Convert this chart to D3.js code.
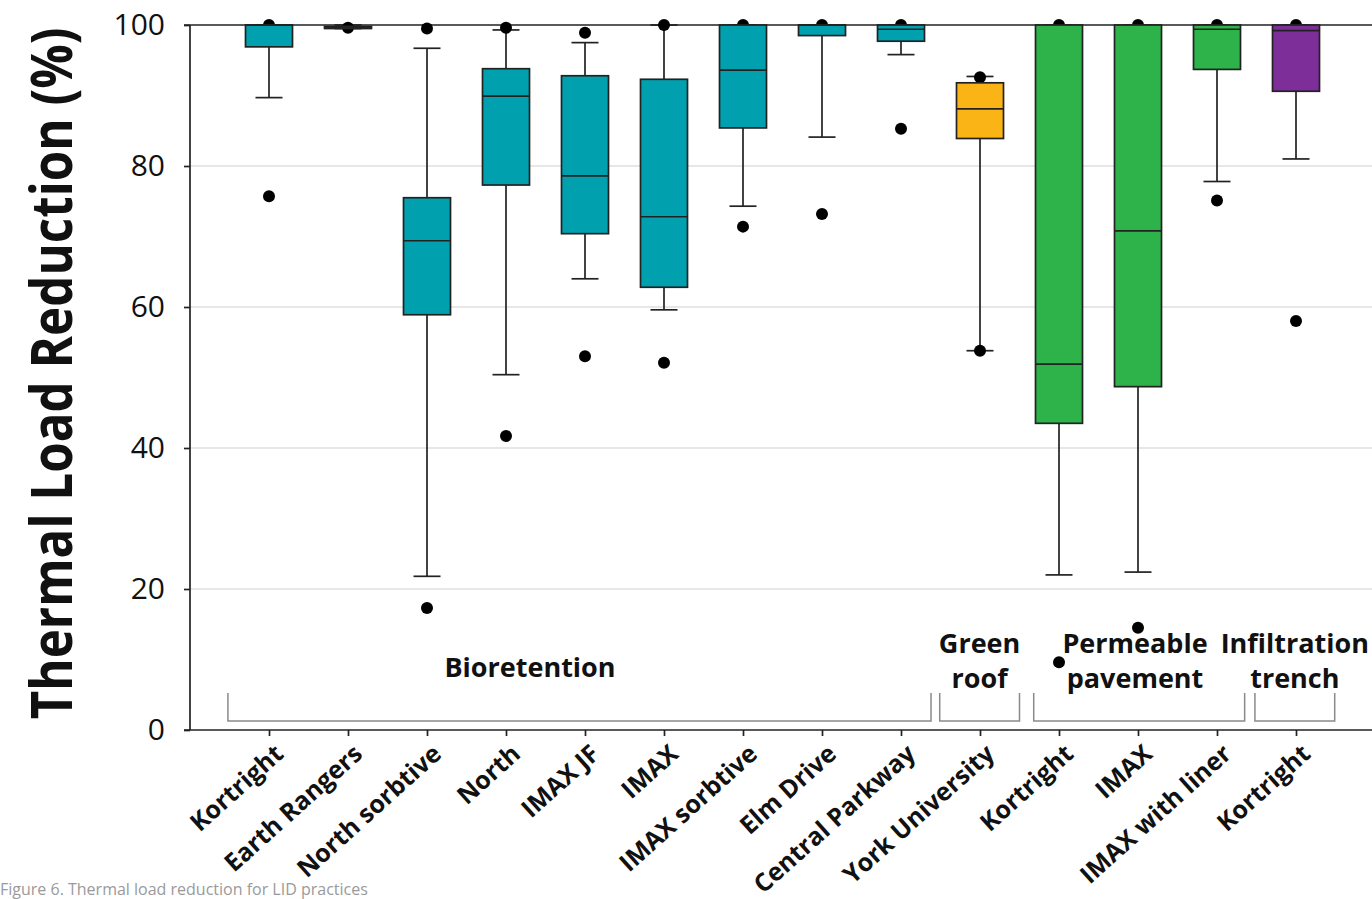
<!DOCTYPE html>
<html>
<head>
<meta charset="utf-8">
<script src="https://cdn.jsdelivr.net/npm/d3@7"></script>
<style>
  html, body { margin: 0; padding: 0; background: #fff; }
  svg { display: block; }
</style>
</head>
<body>
<svg id="chart" width="1372" height="899"></svg>
<script>
// ---------- data ----------
const categories = ["Kortright", "Earth Rangers", "North sorbtive", "North", "IMAX JF", "IMAX",
  "IMAX sorbtive", "Elm Drive", "Central Parkway", "York University", "Kortright", "IMAX",
  "IMAX with liner", "Kortright"];
const practice = ["Bioretention", "Bioretention", "Bioretention", "Bioretention", "Bioretention",
  "Bioretention", "Bioretention", "Bioretention", "Bioretention", "Green roof",
  "Permeable pavement", "Permeable pavement", "Permeable pavement", "Infiltration trench"];
const q1 = [96.9, 99.5, 58.9, 77.3, 70.4, 62.8, 85.4, 98.5, 97.7, 83.9, 43.5, 48.7, 93.7, 90.6];
const median = [100, 99.7, 69.4, 89.9, 78.6, 72.8, 93.6, 100, 99.4, 88.1, 51.9, 70.8, 99.4, 99.2];
const q3 = [100, 99.8, 75.5, 93.8, 92.8, 92.3, 100, 100, 100, 91.8, 100, 100, 100, 100];
const whiskerLow = [89.7, 99.5, 21.8, 50.4, 64.0, 59.6, 74.3, 84.1, 95.8, 53.8, 22.0, 22.4, 77.8, 81.0];
const whiskerHigh = [100, 100, 96.7, 99.3, 97.5, 100, 100, 100, 100, 92.7, 100, 100, 100, 100];
const outliers = [[100, 75.7], [99.6], [99.5, 17.3], [99.6, 41.7], [98.9, 53.0], [100, 52.1],
  [100, 71.4], [100, 73.2], [100, 85.3], [92.6, 53.8], [100, 9.6], [100, 14.5], [100, 75.1], [100, 58.0]];
const yTicks = [0, 20, 40, 60, 80, 100];
const groupNames = ["Bioretention", "Green roof", "Permeable pavement", "Infiltration trench"];
const groupLabelLines = [["Bioretention"], ["Green", "roof"], ["Permeable", "pavement"], ["Infiltration", "trench"]];
const yTitle = "Thermal Load Reduction (%)";
const caption = "Figure 6. Thermal load reduction for LID practices";

// ---------- styling / layout ----------
const practiceColor = {
  "Bioretention": "#00a0af",
  "Green roof": "#fbb416",
  "Permeable pavement": "#2db34a",
  "Infiltration trench": "#7d2e98"
};
// bracket extents in category-position units (layout)
const bracketSpan = [[0.48, 9.38], [9.49, 10.5], [10.68, 13.35], [13.48, 14.49]];
const FONT = "'Open Sans', 'DejaVu Sans', sans-serif";

const svg = d3.select("#chart");
const x = d3.scaleLinear().domain([0, 15]).range([190, 1375]);
const y = d3.scaleLinear().domain([0, 100]).range([730, 25]);
const boxW = 47, capW = 27;
const SW = 1.7;

// gridlines
svg.append("g").selectAll("line").data(yTicks.filter(t => t > 0 && t < 100)).join("line")
  .attr("x1", 190).attr("x2", 1372)
  .attr("y1", d => y(d)).attr("y2", d => y(d))
  .attr("stroke", "#cfcfcf").attr("stroke-width", 1);

// y axis
const yAxis = d3.axisLeft(y).tickValues(yTicks).tickSize(6).tickPadding(19).tickFormat(d3.format("d"));
const gy = svg.append("g").attr("transform", "translate(190,0)").call(yAxis);
gy.select(".domain").attr("stroke", "#222").attr("stroke-width", SW).attr("d", "M0,25V730");
gy.selectAll(".tick line").attr("stroke", "#222").attr("stroke-width", SW);
gy.selectAll(".tick text").attr("font-family", FONT).attr("font-size", 30).attr("fill", "#111");

// top line
svg.append("line").attr("x1", 184).attr("x2", 1372).attr("y1", y(100)).attr("y2", y(100))
  .attr("stroke", "#222").attr("stroke-width", SW);

// x axis
const idx = d3.range(categories.length);
const xAxis = d3.axisBottom(x).tickValues(idx.map(i => i + 1)).tickSize(6).tickFormat("");
const gx = svg.append("g").attr("transform", `translate(0,${y(0)})`).call(xAxis);
gx.select(".domain").attr("stroke", "#222").attr("stroke-width", SW).attr("d", "M184,0H1372");
gx.selectAll(".tick line").attr("stroke", "#222").attr("stroke-width", SW);

// x tick labels
svg.append("g").selectAll("text").data(idx).join("text")
  .attr("transform", i => `translate(${x(i + 1) + 16},${y(0) + 26}) rotate(-42)`)
  .attr("text-anchor", "end")
  .attr("font-family", FONT).attr("font-weight", "bold").attr("font-size", 25).attr("fill", "#111")
  .text(i => categories[i]);

// boxes
const g = svg.append("g");
// whiskers
g.selectAll("line.wl").data(idx).join("line").attr("class", "wl")
  .attr("x1", i => x(i + 1)).attr("x2", i => x(i + 1))
  .attr("y1", i => y(q1[i])).attr("y2", i => y(whiskerLow[i]))
  .attr("stroke", "#222").attr("stroke-width", SW);
g.selectAll("line.wh").data(idx).join("line").attr("class", "wh")
  .attr("x1", i => x(i + 1)).attr("x2", i => x(i + 1))
  .attr("y1", i => y(q3[i])).attr("y2", i => y(whiskerHigh[i]))
  .attr("stroke", "#222").attr("stroke-width", SW);
g.selectAll("line.cl").data(idx).join("line").attr("class", "cl")
  .attr("x1", i => x(i + 1) - capW / 2).attr("x2", i => x(i + 1) + capW / 2)
  .attr("y1", i => y(whiskerLow[i])).attr("y2", i => y(whiskerLow[i]))
  .attr("stroke", "#222").attr("stroke-width", SW);
g.selectAll("line.ch").data(idx).join("line").attr("class", "ch")
  .attr("x1", i => x(i + 1) - capW / 2).attr("x2", i => x(i + 1) + capW / 2)
  .attr("y1", i => y(whiskerHigh[i])).attr("y2", i => y(whiskerHigh[i]))
  .attr("stroke", "#222").attr("stroke-width", SW);
// outliers
const pts = idx.flatMap(i => outliers[i].map(v => ({ i, v })));
g.selectAll("circle").data(pts).join("circle")
  .attr("cx", d => x(d.i + 1)).attr("cy", d => y(d.v)).attr("r", 6).attr("fill", "#000");
// box rects
g.selectAll("rect").data(idx).join("rect")
  .attr("x", i => x(i + 1) - boxW / 2).attr("width", boxW)
  .attr("y", i => y(q3[i])).attr("height", i => Math.max(0.5, y(q1[i]) - y(q3[i])))
  .attr("fill", i => practiceColor[practice[i]])
  .attr("stroke", "#222").attr("stroke-width", SW);
// medians
g.selectAll("line.md").data(idx).join("line").attr("class", "md")
  .attr("x1", i => x(i + 1) - boxW / 2).attr("x2", i => x(i + 1) + boxW / 2)
  .attr("y1", i => y(median[i])).attr("y2", i => y(median[i]))
  .attr("stroke", "#222").attr("stroke-width", SW);

// group brackets
const bg = svg.append("g");
groupNames.forEach((name, k) => {
  const [a, b] = bracketSpan[k];
  const xa = x(a), xb = x(b);
  bg.append("path")
    .attr("d", `M${xa},693V721H${xb}V693`)
    .attr("fill", "none").attr("stroke", "#8a8a8a").attr("stroke-width", 1.5);
  const lines = groupLabelLines[k];
  const cx = k === 0 ? 530 : (k === 2 ? 1135 : (xa + xb) / 2);
  const baselines = lines.length === 1 ? [677] : [653, 688];
  lines.forEach((ln, j) => {
    bg.append("text").attr("x", cx).attr("y", baselines[j])
      .attr("text-anchor", "middle")
      .attr("font-family", FONT).attr("font-weight", "bold").attr("font-size", 27).attr("fill", "#111")
      .text(ln);
  });
});

// y title: fit its natural length to the reference span, then stretch glyph height
const titleSpan = 692, titleHeightSize = 58;
const yt = svg.append("text")
  .attr("text-anchor", "middle")
  .attr("font-family", FONT).attr("font-weight", "bold").attr("font-size", titleHeightSize).attr("fill", "#111")
  .text(yTitle);
const natural = yt.node().getComputedTextLength();
const fs = titleHeightSize * titleSpan / natural;
yt.attr("font-size", fs)
  .attr("transform", `translate(72,${(25 + 722) / 2}) rotate(-90) scale(1,${titleHeightSize / fs})`);

// caption
svg.append("text").attr("x", 0).attr("y", 895)
  .attr("font-family", FONT).attr("font-size", 16).attr("fill", "#9a9a9a")
  .text(caption);
</script>
</body>
</html>
